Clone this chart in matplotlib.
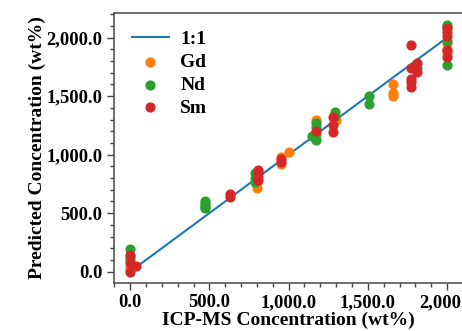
import numpy as np
import matplotlib.pyplot as plt
from matplotlib.ticker import FuncFormatter, MultipleLocator

plt.rcParams['font.family'] = ['Liberation Serif', 'DejaVu Serif']
plt.rcParams['font.weight'] = 'bold'

# ICP-MS reference vs. model prediction, per element
gd_true = [0, 0, 800, 800, 950, 950, 1000, 1170, 1300, 1660, 1660, 1660, 2000, 2000, 2000]
gd_pred = [20, 40, 713, 770, 980, 920, 1026, 1297, 1297, 1600, 1525, 1505, 1950, 1895, 1867]

nd_true = [0, 0, 0, 470, 470, 470, 470, 470, 790, 790, 790,
           1175, 1175, 1175, 1175, 1150, 1295, 1295, 1510, 1510, 1810,
           2000, 2000, 2000, 2000]
nd_pred = [195, 125, 100, 600, 585, 570, 555, 540, 840, 800, 770,
           1270, 1240, 1180, 1125, 1160, 1360, 1330, 1500, 1430, 1740,
           2110, 2090, 1970, 1770]

sm_true = [0, 0, 0, 40, 630, 630, 805, 805, 805, 805, 950, 950, 1175,
           1280, 1280, 1280, 1770, 1770, 1770, 1770, 1770, 1810, 1810,
           2000, 2000, 2000, 2000, 2000]
sm_pred = [143, 72, 0, 45, 665, 640, 870, 840, 810, 780, 960, 935, 1200,
           1320, 1250, 1195, 1940, 1740, 1650, 1620, 1580, 1780, 1710,
           2080, 2050, 2010, 1890, 1830]

ref_line = [40, 2000]

fig = plt.figure(figsize=(4.62, 3.31), dpi=100)
ax = fig.add_axes([0.247, 0.145, 0.755, 0.816])

ax.plot(ref_line, ref_line, color='#1f77b4', lw=1.5, label='1:1', zorder=1)
ax.scatter(gd_true, gd_pred, s=40, color='#ff7f0e', label='Gd', zorder=2)
ax.scatter(nd_true, nd_pred, s=40, color='#2ca02c', label='Nd', zorder=3)
ax.scatter(sm_true, sm_pred, s=40, color='#d62728', label='Sm', zorder=4)

ax.set_xlim(-101, 2100)
ax.set_ylim(-97, 2211)

fmt = FuncFormatter(lambda v, p: f'{v:,.1f}')
for axis in (ax.xaxis, ax.yaxis):
    axis.set_major_locator(MultipleLocator(500))
    axis.set_minor_locator(MultipleLocator(100))
    axis.set_major_formatter(fmt)

ax.tick_params(which='major', length=5, width=1, color='#444444', labelsize=13.3)
ax.tick_params(which='minor', length=3, width=1, color='#444444')
ax.tick_params(axis='x', pad=3)
for side in ax.spines.values():
    side.set_color('#555555')
    side.set_linewidth(1.2)

ax.set_xlabel('ICP-MS Concentration (wt%)', fontsize=14, fontweight='bold', labelpad=0.5)
ax.set_ylabel('Predicted Concentration (wt%)', fontsize=14, fontweight='bold', labelpad=0)

ax.legend(loc='upper left', frameon=False, fontsize=14, handlelength=1.9,
          handletextpad=0.6, labelspacing=0.27, borderaxespad=0.5)

fig.savefig('out.png', dpi=100)
